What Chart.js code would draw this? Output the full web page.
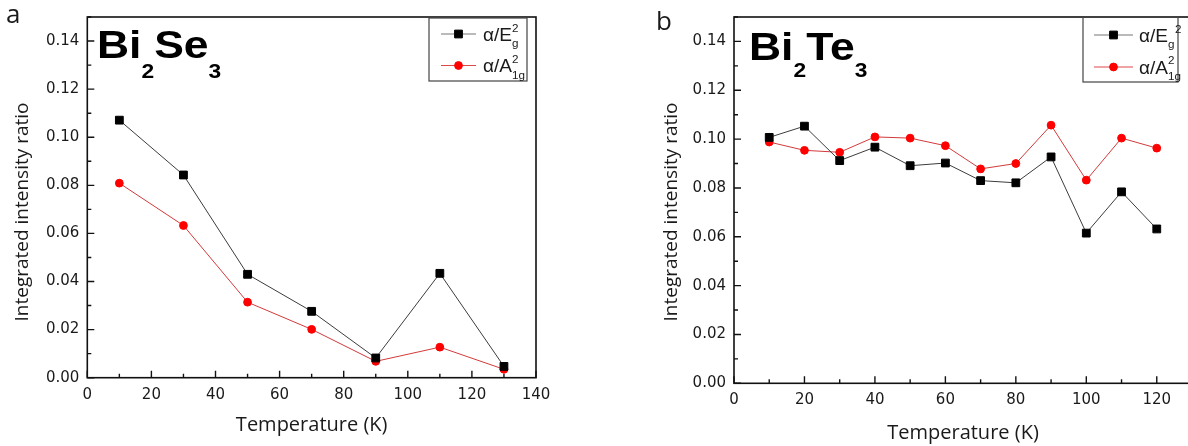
<!DOCTYPE html>
<html>
<head>
<meta charset="utf-8">
<script src="https://cdn.jsdelivr.net/npm/chart.js@4/dist/chart.umd.min.js"></script>
<style>
  html, body { margin: 0; padding: 0; background: #fff; overflow: hidden; }
  body { width: 1188px; height: 446px; position: relative; }
  .panel { position: absolute; top: 0; width: 600px; height: 446px; }
  #panelA { left: 0; }
  #panelB { left: 600px; }
</style>
</head>
<body>
<div class="panel" id="panelA"><canvas id="chartA" width="600" height="446"></canvas></div>
<div class="panel" id="panelB"><canvas id="chartB" width="600" height="446"></canvas></div>
<script>
// Bi2Se3: integrated intensity ratio vs temperature
const tempSe = [10, 30, 50, 70, 90, 110, 130];
const seEg = [0.1071, 0.0843, 0.0430, 0.0276, 0.0082, 0.0434, 0.0047];
const seA1g = [0.0809, 0.0633, 0.0314, 0.0201, 0.0068, 0.0127, 0.0035];

// Bi2Te3: integrated intensity ratio vs temperature
const tempTe = [10, 20, 30, 40, 50, 60, 70, 80, 90, 100, 110, 120];
const teEg = [0.1007, 0.1053, 0.0912, 0.0967, 0.0891, 0.0902, 0.0830, 0.0821, 0.0927, 0.0615, 0.0784, 0.0632];
const teA1g = [0.0988, 0.0954, 0.0946, 0.1009, 0.1004, 0.0973, 0.0878, 0.0900, 0.1057, 0.0832, 0.1004, 0.0963];

// axis ranges and tick steps (minor steps, every other one labelled)
const yRange = [0, 0.15];
const yStep = 0.01;
const xRangeSe = [0, 140];
const xRangeTe = [0, 130];
const xStep = 10;

const tickFont = { family: '"DejaVu Sans", sans-serif', size: 15 };
const inkColor = '#1a1a1a';

function series(xs, ys, label, kind) {
  const black = kind === 'black';
  return {
    label: label,
    data: xs.map((x, i) => ({ x: x, y: ys[i] })),
    borderColor: black ? '#3c3c3c' : '#d23a3a',
    borderWidth: 1,
    pointStyle: black ? 'rect' : 'circle',
    pointRadius: black ? 5.5 : 3.9,
    pointBorderWidth: 1,
    pointBackgroundColor: black ? '#000' : '#ff0000',
    pointBorderColor: black ? '#000' : '#ff0000',
    tension: 0,
  };
}

// draws text runs with sub/superscripts, stretched by sx, returns the end x
function drawRuns(ctx, x, y, runs, sx) {
  sx = sx || 1;
  ctx.save();
  ctx.translate(x, y);
  ctx.scale(sx, 1);
  let cx = 0;
  runs.forEach((r) => {
    ctx.font = r.font;
    ctx.fillText(r.text, cx, r.dy || 0);
    cx += ctx.measureText(r.text).width;
  });
  ctx.restore();
  return x + cx * sx;
}

function drawMarker(ctx, ds, x, y) {
  ctx.fillStyle = ds.pointBackgroundColor;
  ctx.strokeStyle = ds.pointBorderColor;
  ctx.lineWidth = ds.pointBorderWidth;
  ctx.beginPath();
  if (ds.pointStyle === 'rect') {
    const s = Math.SQRT1_2 * ds.pointRadius;
    ctx.rect(x - s, y - s, 2 * s, 2 * s);
  } else {
    ctx.arc(x, y, ds.pointRadius, 0, Math.PI * 2);
  }
  ctx.fill();
  ctx.stroke();
}

// Origin-style frame with inward major/minor ticks
const framePlugin = {
  id: 'originFrame',
  beforeDatasetsDraw(chart) {
    const { ctx, chartArea: a, scales: { x, y } } = chart;
    ctx.save();
    ctx.strokeStyle = '#111';
    ctx.lineWidth = 1.6;
    ctx.strokeRect(a.left, a.top, a.right - a.left, a.bottom - a.top);
    ctx.lineWidth = 1.4;
    ctx.beginPath();
    x.ticks.forEach((t, i) => {
      const px = x.getPixelForValue(t.value);
      const len = i % 2 === 0 ? 7 : 4;
      ctx.moveTo(px, a.bottom);
      ctx.lineTo(px, a.bottom - len);
    });
    y.ticks.forEach((t, i) => {
      const py = y.getPixelForValue(t.value);
      const len = i % 2 === 0 ? 7 : 4;
      ctx.moveTo(a.left, py);
      ctx.lineTo(a.left + len, py);
    });
    ctx.stroke();
    ctx.restore();
  },
};

// panel letter, compound name, y title and the legend box
const decorPlugin = {
  id: 'panelDecor',
  afterDraw(chart, args, o) {
    const ctx = chart.ctx;
    ctx.save();
    ctx.fillStyle = inkColor;
    ctx.textBaseline = 'alphabetic';
    ctx.textAlign = 'left';

    ctx.font = '26px "Open Sans", sans-serif';
    ctx.fillText(o.letter, o.letterPos[0], o.letterPos[1]);

    ctx.fillStyle = '#000';
    const big = 'bold 39px "Liberation Sans", Arial, sans-serif';
    const small = 'bold 20px "Liberation Sans", Arial, sans-serif';
    drawRuns(ctx, o.namePos[0], o.namePos[1], [
      { text: 'Bi', font: big },
      { text: '2', font: small, dy: o.subDy },
      { text: o.nameMid, font: big },
      { text: '3', font: small, dy: o.subDy },
    ], 1.14);

    // y axis title
    ctx.fillStyle = inkColor;
    ctx.save();
    ctx.translate(o.yTitlePos[0], o.yTitlePos[1]);
    ctx.rotate(-Math.PI / 2);
    ctx.textAlign = 'center';
    ctx.textBaseline = 'middle';
    ctx.font = '19px "Open Sans", sans-serif';
    ctx.fillText('Integrated intensity ratio', 0, 0);
    ctx.restore();

    // legend
    const [bx, by, bw, bh] = o.legendBox;
    ctx.strokeStyle = '#444';
    ctx.lineWidth = 1.2;
    ctx.strokeRect(bx, by, bw, bh);
    const txt = '18px "Liberation Sans", Arial, sans-serif';
    const tiny = '11px "Liberation Sans", Arial, sans-serif';
    chart.data.datasets.forEach((ds, i) => {
      const ry = o.legendRows[i];
      ctx.strokeStyle = i === 0 ? '#777' : '#e04848';
      ctx.lineWidth = 1.2;
      ctx.beginPath();
      ctx.moveTo(o.legendLine[0], ry);
      ctx.lineTo(o.legendLine[1], ry);
      ctx.stroke();
      drawMarker(ctx, ds, (o.legendLine[0] + o.legendLine[1]) / 2, ry);
      ctx.fillStyle = inkColor;
      const item = o.legendText[i];
      const end = drawRuns(ctx, o.legendTextX, ry + 6.5, [{ text: item.base, font: txt }], 1.06);
      drawRuns(ctx, end + (item.supDx || 0), ry + (i === 0 ? -2 : -3), [{ text: '2', font: tiny }], 1.06);
      drawRuns(ctx, end, ry + 13, [{ text: item.sub, font: tiny }], 1.06);
    });
    ctx.restore();
  },
};

function makeChart(id, xs, eg, a1g, xRange, layout, decor) {
  return new Chart(document.getElementById(id), {
    type: 'line',
    data: {
      datasets: [
        series(xs, eg, 'α/E2g', 'black'),
        series(xs, a1g, 'α/A21g', 'red'),
      ],
    },
    options: {
      responsive: false,
      animation: false,
      devicePixelRatio: 1,
      layout: { padding: { left: 0, top: layout.top, right: layout.right, bottom: 0 } },
      plugins: {
        legend: { display: false },
        tooltip: { enabled: false },
        panelDecor: decor,
      },
      scales: {
        x: {
          type: 'linear',
          min: xRange[0],
          max: xRange[1],
          grid: { display: false, drawTicks: false },
          border: { display: false },
          ticks: {
            stepSize: xStep,
            autoSkip: false,
            maxRotation: 0,
            padding: 8,
            color: inkColor,
            font: tickFont,
            callback: (v, i) => (i % 2 === 0 ? String(Math.round(v)) : ''),
          },
          title: {
            display: true,
            text: 'Temperature (K)',
            color: inkColor,
            font: { family: '"Open Sans", sans-serif', size: 20 },
            padding: { top: 0, bottom: layout.xTitlePad },
          },
          afterFit: (s) => { s.height = layout.xHeight; },
        },
        y: {
          min: yRange[0],
          max: yRange[1],
          grid: { display: false, drawTicks: false },
          border: { display: false },
          ticks: {
            stepSize: yStep,
            autoSkip: false,
            padding: 8,
            color: inkColor,
            font: tickFont,
            callback: (v, i) => (i % 2 === 0 ? v.toFixed(2) : ''),
          },
          afterFit: (s) => { s.width = layout.yWidth; },
        },
      },
    },
    plugins: [framePlugin, decorPlugin],
  });
}

makeChart('chartA', tempSe, seEg, seA1g, xRangeSe,
  { top: 15.5, right: 64, yWidth: 87.3, xHeight: 68.3, xTitlePad: 9 },
  {
    letter: 'a', letterPos: [6, 23],
    nameMid: 'Se', namePos: [97, 57.5], subDy: 20,
    yTitlePos: [23, 212],
    legendBox: [429, 18, 98, 63], legendRows: [34, 65.5], legendLine: [441, 476], legendTextX: 483,
    legendText: [{ base: 'α/E', sub: 'g' }, { base: 'α/A', sub: '1g' }],
  });

makeChart('chartB', tempTe, teEg, teA1g, xRangeTe,
  { top: 15.5, right: 7.5, yWidth: 134, xHeight: 62.7, xTitlePad: 1 },
  {
    letter: 'b', letterPos: [56, 29.5],
    nameMid: 'Te', namePos: [149, 60], subDy: 17,
    yTitlePos: [71.5, 212],
    legendBox: [483, 17, 95, 65], legendRows: [35, 67], legendLine: [494, 533], legendTextX: 539,
    legendText: [{ base: 'α/E', sub: 'g', supDx: 7 }, { base: 'α/A', sub: '1g' }],
  });
</script>
</body>
</html>
